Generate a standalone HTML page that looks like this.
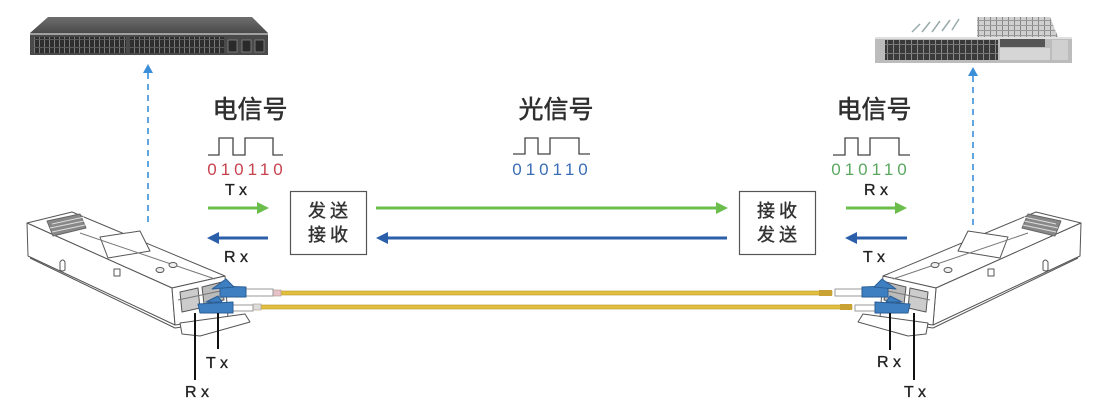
<!DOCTYPE html>
<html><head><meta charset="utf-8"><style>
html,body{margin:0;padding:0;background:#fff;}
svg{display:block;}
text{font-family:"Liberation Sans","Noto Sans CJK SC",sans-serif;}
</style></head><body>
<svg width="1118" height="417" viewBox="0 0 1118 417" xmlns="http://www.w3.org/2000/svg">
<defs>
<linearGradient id="gTop" x1="0" y1="0" x2="0" y2="1"><stop offset="0" stop-color="#6e6e6e"/><stop offset="1" stop-color="#4a4a4a"/></linearGradient>
<pattern id="ports" width="5" height="8" patternUnits="userSpaceOnUse"><rect width="5" height="8" fill="#2e2e2e"/><rect x="4" width="1" height="8" fill="#7a7a7a"/><rect y="7" width="5" height="1" fill="#5a5a5a"/></pattern>
<pattern id="ports2" width="6" height="9" patternUnits="userSpaceOnUse"><rect width="6" height="9" fill="#3a3a3a"/><rect x="5" width="1" height="9" fill="#8a8a8a"/><rect y="8" width="6" height="1" fill="#777"/></pattern>
<pattern id="grid" width="6" height="5" patternUnits="userSpaceOnUse"><rect width="6" height="5" fill="#d0d0d0"/><rect x="0" width="1" height="5" fill="#888"/><rect y="0" width="6" height="1" fill="#999"/></pattern>
<g id="sfp" fill="#fff" stroke="#555" stroke-width="1" stroke-linejoin="round">
  <polygon points="27,223 72,212 225,276 172,288"/>
  <polygon points="27,223 172,288 175,325 28,256"/>
  <polygon points="172,288 225,276 228,318 175,325"/>
  <polyline points="30,258 175,328 230,320" fill="none"/>
  <polygon points="47,221 80,214 86,228 53,236" fill="#888" stroke="#666"/>
  <line x1="52" y1="224" x2="84" y2="217" stroke="#ddd"/>
  <line x1="50" y1="228" x2="84" y2="221" stroke="#ddd"/>
  <line x1="52" y1="232" x2="85" y2="225" stroke="#ddd"/>
  <polygon points="100,237 140,231 150,251 108,258" fill="#fff"/>
  <line x1="80" y1="233" x2="215" y2="279" stroke="#777"/>
  <rect x="114" y="269" width="6" height="7" fill="#fff"/>
  <path d="M60,262 q3,-4 5,0 l0,8 q-3,2 -5,0z" fill="#fff"/>
  <ellipse cx="160" cy="270" rx="4" ry="2.5" fill="#eee"/>
  <ellipse cx="173" cy="265" rx="4" ry="2.5" fill="#eee"/>
  <polygon points="180,292 198,288 200,308 182,312" fill="#ccc"/>
  <polygon points="202,287 222,282 224,300 204,304" fill="#bbb"/>
  <polygon points="180,323 245,314 250,322 200,336 182,334" fill="#fff"/>
  <line x1="178" y1="300" x2="225" y2="290" stroke="#777"/>
  <rect x="245" y="289" width="28" height="7" fill="#fff" stroke="#999"/>
  <rect x="230" y="305" width="23" height="6" fill="#fff" stroke="#999"/>
  <polygon points="220,286 246,287 246,297 220,297" fill="#3d7fc0" stroke="#2a5e96"/>
  <polygon points="212,289 226,279 234,287" fill="#3d7fc0" stroke="#2a5e96"/>
  <polygon points="198,304 233,302 233,313 200,313" fill="#3d7fc0" stroke="#2a5e96"/>
  <polygon points="206,302 218,296 222,302" fill="#3d7fc0" stroke="#2a5e96"/>
</g>
</defs>

<!-- left switch -->
<polygon points="48,17 252,17 268,33 30,33" fill="url(#gTop)"/>
<rect x="30" y="33" width="238" height="22" fill="#4a4a4a"/>
<rect x="30" y="33" width="238" height="2" fill="#a0a0a0"/>
<rect x="34" y="37" width="92" height="16" fill="url(#ports)"/>
<rect x="130" y="37" width="94" height="16" fill="url(#ports)"/>
<rect x="228" y="40" width="9" height="12" fill="#2a2a2a" stroke="#888" stroke-width="0.8"/>
<rect x="242" y="40" width="9" height="12" fill="#2a2a2a" stroke="#888" stroke-width="0.8"/>
<rect x="255" y="40" width="9" height="12" fill="#2a2a2a" stroke="#888" stroke-width="0.8"/>

<!-- right device -->
<g stroke="#9aa" stroke-width="1.5">
<line x1="912" y1="32" x2="920" y2="24"/><line x1="922" y1="32" x2="930" y2="22"/><line x1="932" y1="32" x2="940" y2="21"/><line x1="942" y1="31" x2="950" y2="20"/><line x1="952" y1="30" x2="959" y2="19"/>
</g>
<polygon points="977,17 1050,17 1058,37 977,37" fill="url(#grid)"/>
<rect x="875" y="37" width="197" height="26" fill="#bcbcbc"/>
<rect x="875" y="37" width="197" height="2" fill="#e0e0e0"/>
<rect x="885" y="40" width="113" height="20" fill="url(#ports2)"/>
<rect x="1000" y="39" width="45" height="8" fill="#555"/>
<rect x="1000" y="48" width="50" height="12" fill="#d6d6d6"/>
<rect x="1052" y="40" width="16" height="20" fill="#d0d0d0"/>

<!-- dashed vertical lines -->
<line x1="148" y1="73" x2="148" y2="223" stroke="#3a8fd8" stroke-width="1.6" stroke-dasharray="6,5"/>
<polygon points="143,73 153,73 148,64" fill="#3a8fd8"/>
<line x1="973" y1="76" x2="973" y2="226" stroke="#3a8fd8" stroke-width="1.6" stroke-dasharray="6,5"/>
<polygon points="968,76 978,76 973,67" fill="#3a8fd8"/>

<!-- titles -->
<g font-size="25" fill="#2e2e2e" stroke="#2e2e2e" stroke-width="0.5" text-anchor="middle">
<text x="250" y="118">电信号</text>
<text x="556" y="118">光信号</text>
<text x="874" y="118">电信号</text>
</g>

<!-- waveforms -->
<g fill="none" stroke="#444" stroke-width="1.3">
<polyline points="208,155 219,155 219,138 233,138 233,155 245,155 245,138 273,138 273,155 283,155"/>
<polyline points="513,154 525,154 525,138 538,138 538,154 550,154 550,138 579,138 579,154 590,154"/>
<polyline points="833,155 845,155 845,138 858,138 858,155 870,155 870,138 899,138 899,155 910,155"/>
</g>
<text x="247" y="175" font-size="17" fill="#c8424e" text-anchor="middle" letter-spacing="4">010110</text>
<text x="552" y="175" font-size="17" fill="#3a6db5" text-anchor="middle" letter-spacing="4">010110</text>
<text x="871" y="175" font-size="17" fill="#5aa860" text-anchor="middle" letter-spacing="4">010110</text>

<!-- Tx/Rx labels -->
<g font-size="16" fill="#222" stroke="#222" stroke-width="0.3" text-anchor="middle">
<text x="236" y="195">T x</text>
<text x="236" y="262">R x</text>
<text x="876" y="195">R x</text>
<text x="874" y="262">T x</text>
<text x="217" y="368">T x</text>
<text x="197" y="397">R x</text>
<text x="889" y="367">R x</text>
<text x="915" y="397">T x</text>
</g>

<!-- boxes -->
<rect x="290.5" y="191.5" width="76" height="63" fill="#fff" stroke="#555" stroke-width="1.2"/>
<rect x="739.5" y="191.5" width="76" height="63" fill="#fff" stroke="#555" stroke-width="1.2"/>
<g font-size="18" fill="#333" stroke="#333" stroke-width="0.4" text-anchor="middle" letter-spacing="4">
<text x="330" y="217">发送</text>
<text x="330" y="241">接收</text>
<text x="779" y="217">接收</text>
<text x="779" y="241">发送</text>
</g>

<!-- arrows -->
<g stroke-width="3">
<line x1="208" y1="208" x2="259" y2="208" stroke="#6bbd4c"/>
<line x1="217" y1="238" x2="268" y2="238" stroke="#2b5faa"/>
<line x1="376" y1="208" x2="718" y2="208" stroke="#6bbd4c"/>
<line x1="386" y1="238" x2="727" y2="238" stroke="#2b5faa"/>
<line x1="846" y1="208" x2="897" y2="208" stroke="#6bbd4c"/>
<line x1="855" y1="238" x2="907" y2="238" stroke="#2b5faa"/>
</g>
<polygon points="257,202 269,208 257,214" fill="#6bbd4c"/>
<polygon points="219,232 207,238 219,244" fill="#2b5faa"/>
<polygon points="716,202 728,208 716,214" fill="#6bbd4c"/>
<polygon points="388,232 376,238 388,244" fill="#2b5faa"/>
<polygon points="895,202 907,208 895,214" fill="#6bbd4c"/>
<polygon points="857,232 845,238 857,244" fill="#2b5faa"/>

<!-- fibers -->
<rect x="272" y="291" width="560" height="4" fill="#e2c03e" stroke="#b8952a" stroke-width="0.6"/>
<rect x="252" y="305" width="600" height="4" fill="#e2c03e" stroke="#b8952a" stroke-width="0.6"/>
<rect x="273" y="290" width="8" height="6" fill="#e8c0c8" stroke="#a98" stroke-width="0.6"/>
<rect x="253" y="304" width="8" height="6" fill="#ddd" stroke="#a98" stroke-width="0.6"/>
<rect x="819" y="290" width="13" height="6" fill="#c9a233"/>
<rect x="840" y="304" width="12" height="6" fill="#c9a233"/>

<!-- SFP modules -->
<use href="#sfp"/>
<use href="#sfp" transform="translate(1108,0) scale(-1,1)"/>

<!-- leader lines -->
<g stroke="#111" stroke-width="2">
<line x1="195" y1="313" x2="195" y2="380"/>
<line x1="218" y1="313" x2="218" y2="349"/>
<line x1="890" y1="313" x2="890" y2="350"/>
<line x1="914" y1="313" x2="914" y2="380"/>
</g>
</svg>
</body></html>
